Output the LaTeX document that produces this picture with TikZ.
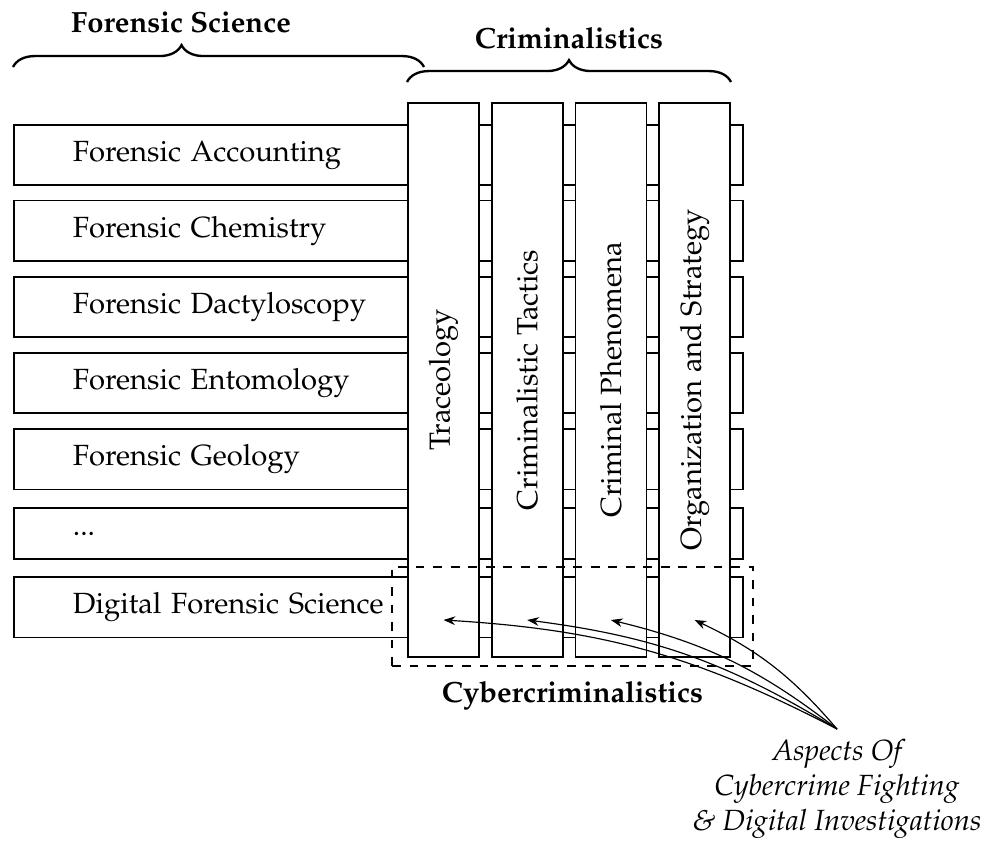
\documentclass[tikz,border=0pt]{standalone}
\usepackage[T1]{fontenc}
\usepackage{mathpazo}
\usepackage{tikz}
\usetikzlibrary{
  arrows.meta,
  positioning,
  calc,
  decorations.pathreplacing
}

\tikzset{
  area/.style={draw, semithick, rectangle, text width=209.3pt, inner xsep=20.2pt, inner ysep=5.3pt, minimum height=17.5pt, align=left},
  branch/.style={draw, semithick, fill=white, rectangle, rotate=90, minimum width=189.7pt, minimum height=24.3pt, inner sep=0pt},
  heading/.style={font=\bfseries, anchor=base},
  curly/.style={decorate, decoration={brace, amplitude=7.5pt}, thick},
  pointer/.style={-{Stealth[length=4pt,width=3pt]}, thin}
}

\begin{document}
\begin{tikzpicture}[x=0.3425pt, y=-0.3425pt]
  \useasboundingbox (0,0) rectangle (986,845);
  % forensic disciplines
  \node[area] (acct) at (378.5,155) {Forensic Accounting};
  \node[area, below=0.17cm of acct] (chem) {Forensic Chemistry};
  \node[area, below=0.17cm of chem] (dacty) {Forensic Dactyloscopy};
  \node[area, below=0.17cm of dacty] (ento) {Forensic Entomology};
  \node[area, below=0.17cm of ento] (geol) {Forensic Geology};
  \node[area, below=0.2cm of geol] (more) {...};
  \node[area, below=0.2cm of more] (dfs) {Digital Forensic Science};
  % criminalistics branches
  \node[branch] (trace) at (443.5,380) {Traceology};
  \node[branch] (tactics) at (527.2,380) {Criminalistic Tactics};
  \node[branch] (phenom) at (610.9,380) {Criminal Phenomena};
  \node[branch] (orga) at (694.6,380) {Organization and Strategy};
  % braces
  \draw[curly, decoration={aspect=0.41}] (13,67) -- (424,67);
  \draw[curly] (407,82) -- (731,82);
  \node[heading] (forsci) at (181,32) {Forensic Science};
  \node[heading] (crim) at (569,48) {Criminalistics};
  % cyber part
  \node[draw, dashed, semithick, minimum width=123.6pt, minimum height=33.9pt, inner sep=0pt] (cyberbox) at (572.5,616.5) {};
  \node[font=\bfseries, below=0.5mm of cyberbox] (cyber) {Cybercriminalistics};
  \node[font=\itshape, align=center, anchor=north] (aspects) at (837,729) {Aspects Of\\Cybercrime Fighting\\\& Digital Investigations};
  \foreach \col in {trace,tactics,phenom,orga}
    \draw[pointer] (aspects.north) to[bend right=12] ($(\col |- cyberbox.center)+(0,3.5)$);
\end{tikzpicture}
\end{document}
